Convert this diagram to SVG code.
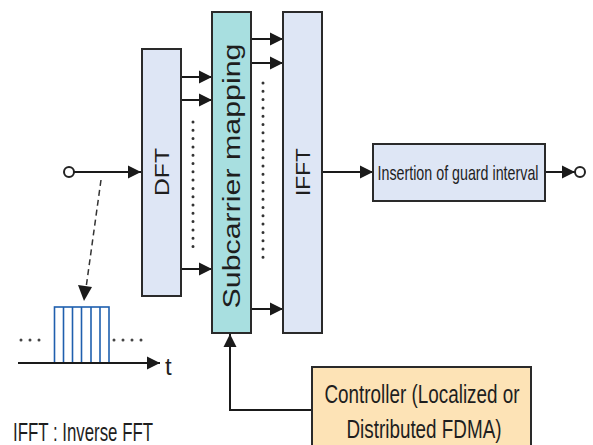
<svg xmlns="http://www.w3.org/2000/svg" width="593" height="445" viewBox="0 0 593 445">
<defs>
<marker id="ah" viewBox="0 0 10 10" refX="10" refY="5" markerUnits="userSpaceOnUse" markerWidth="13" markerHeight="15" orient="auto">
<path d="M0,0 L10,5 L0,10 z" fill="#1a1a1a"/>
</marker>
<style>
.box{stroke:#2a2a2a;stroke-width:2}
.blue{fill:#dee6f5}
.teal{fill:#a8dfe0}
.orange{fill:#fde3b6}
.arr{stroke:#1a1a1a;stroke-width:2;fill:none;marker-end:url(#ah)}
.dot{stroke:#333;stroke-width:3;stroke-linecap:round;stroke-dasharray:0 8.3;fill:none}
.txt{font-family:"Liberation Sans",Arial,sans-serif;fill:#1e1e1e}
.bar{stroke:#1f5fae;stroke-width:1.6;fill:none}
</style>
</defs>

<g id="connectors">
<circle cx="69" cy="172" r="5" fill="#fff" stroke="#222" stroke-width="2"/>
<line class="arr" x1="74" y1="172" x2="141" y2="172"/>
<line class="arr" x1="182" y1="77" x2="212" y2="77"/>
<line class="arr" x1="182" y1="100" x2="212" y2="100"/>
<line class="arr" x1="182" y1="269" x2="212" y2="269"/>
<path class="dot" d="M193,122 V252"/>
<line class="arr" x1="252" y1="39" x2="283" y2="39"/>
<line class="arr" x1="252" y1="63" x2="283" y2="63"/>
<line class="arr" x1="252" y1="309" x2="283" y2="309"/>
<path class="dot" d="M263,83 V264"/>
<line class="arr" x1="323" y1="172" x2="373" y2="172"/>
<line class="arr" x1="546" y1="172" x2="575" y2="172"/>
<circle cx="580" cy="172" r="5" fill="#fff" stroke="#222" stroke-width="2"/>
<path class="arr" d="M312,410 H230 V334"/>
<line x1="101" y1="180" x2="86" y2="288" stroke="#333" stroke-width="1.5" stroke-dasharray="6 4"/>
<path d="M78,285 L92,287 L84,301 z" fill="#1a1a1a"/>
</g>

<g id="dft">
<rect class="box blue" x="142" y="49" width="39" height="247"/>
<text class="txt" font-size="21" text-anchor="middle" transform="translate(169,172) rotate(-90)" textLength="48" lengthAdjust="spacingAndGlyphs">DFT</text>
</g>

<g id="subcarrier">
<rect class="box teal" x="212" y="12" width="39" height="321"/>
<text class="txt" font-size="23" text-anchor="middle" transform="translate(239.5,176) rotate(-90)" textLength="265" lengthAdjust="spacingAndGlyphs">Subcarrier mapping</text>
</g>

<g id="ifft">
<rect class="box blue" x="283" y="12" width="39" height="321"/>
<text class="txt" font-size="21" text-anchor="middle" transform="translate(310,172) rotate(-90)" textLength="48" lengthAdjust="spacingAndGlyphs">IFFT</text>
</g>

<g id="guard">
<rect class="box blue" x="373" y="144" width="172" height="57"/>
<text class="txt" font-size="21" text-anchor="middle" transform="translate(458,180) scale(0.68,1)">Insertion of guard interval</text>
</g>

<g id="controller">
<rect class="box orange" x="312" y="367" width="219" height="90"/>
<text class="txt" font-size="25" x="422" y="403" text-anchor="middle" textLength="195" lengthAdjust="spacingAndGlyphs">Controller (Localized or</text>
<text class="txt" font-size="25" x="424" y="438" text-anchor="middle" textLength="155" lengthAdjust="spacingAndGlyphs">Distributed FDMA)</text>
</g>

<g id="timing">
<rect class="bar" x="54.5" y="307" width="54.5" height="56"/>
<line class="bar" x1="63.5" y1="307" x2="63.5" y2="363"/>
<line class="bar" x1="72.5" y1="307" x2="72.5" y2="363"/>
<line class="bar" x1="81.5" y1="307" x2="81.5" y2="363"/>
<line class="bar" x1="91" y1="307" x2="91" y2="363"/>
<line class="bar" x1="100" y1="307" x2="100" y2="363"/>
<path d="M21,340 H48 M114,340 H142" stroke="#444" stroke-width="3" stroke-linecap="round" stroke-dasharray="0 9" fill="none"/>
<line class="arr" x1="18" y1="363" x2="160" y2="363"/>
<text class="txt" font-size="24" x="165" y="375">t</text>
</g>

<g id="legend">
<text class="txt" font-size="25" x="13" y="441" textLength="140" lengthAdjust="spacingAndGlyphs">IFFT : Inverse FFT</text>
</g>
</svg>
